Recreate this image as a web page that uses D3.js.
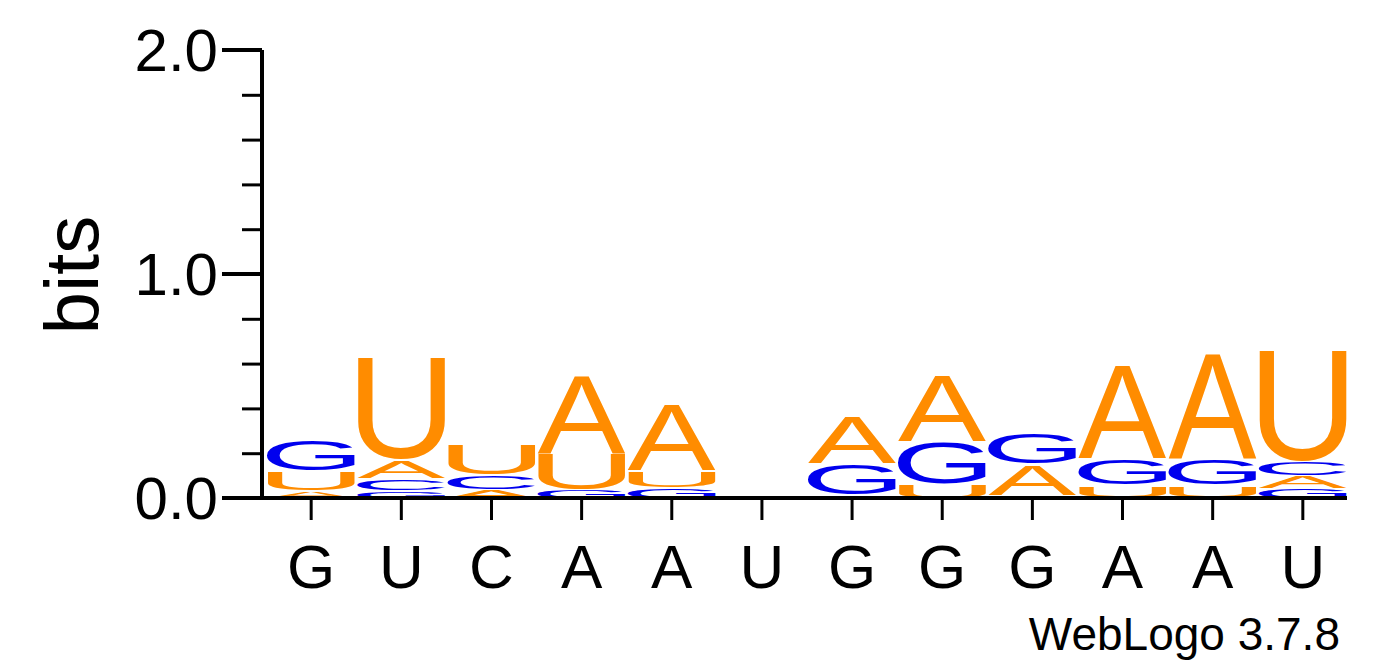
<!DOCTYPE html>
<html><head><meta charset="utf-8">
<script src="https://cdn.jsdelivr.net/npm/d3@7"></script>
<style>body{margin:0;background:#fff}</style>
</head><body><svg id="c" width="1392" height="667"></svg>
<script>
const positions = ["G","U","C","A","A","U","G","G","G","A","A","U"];
// stacks bottom -> top, [letter, bits]
const stacks = [
  [["A",0.035],["U",0.09],["G",0.14]],
  [["G",0.035],["C",0.055],["A",0.08],["U",0.46]],
  [["A",0.04],["C",0.065],["U",0.14]],
  [["G",0.04],["U",0.16],["A",0.35]],
  [["G",0.05],["U",0.075],["A",0.3]],
  [["G",0.005],["U",0.008]],
  [["G",0.005],["U",0.01],["G",0.14],["A",0.21]],
  [["U",0.065],["G",0.19],["A",0.3]],
  [["G",0.004],["U",0.01],["A",0.14],["G",0.14]],
  [["G",0.004],["U",0.055],["G",0.12],["A",0.42]],
  [["G",0.004],["U",0.055],["G",0.12],["A",0.47]],
  [["G",0.045],["A",0.055],["C",0.065],["U",0.5]]
];
const colors = {A:"#ff8c00",U:"#ff8c00",G:"#0000ee",C:"#0000ee"};
const font = "Liberation Sans, Arial, sans-serif";

const svg = d3.select("#c");
const x = d3.scaleBand().domain(d3.range(positions.length)).range([267,1347]).paddingInner(0.02);
const y = d3.scaleLinear().domain([0,2]).range([498,50]);

// measure ink boxes
const ctx = document.createElement("canvas").getContext("2d");
ctx.font = "100px " + font;
const ink = {};
"ACGU".split("").forEach(l => { ink[l] = ctx.measureText(l); });

const g = svg.append("g");
stacks.forEach((st, i) => {
  let acc = 0;
  st.forEach(([l, v]) => {
    const yb = y(acc), yt = y(acc + v);
    acc += v;
    const h = (yb - yt) - 1.5;
    if (h <= 0.3) return;
    const m = ink[l];
    const w = x.bandwidth();
    const sx = w / (m.actualBoundingBoxLeft + m.actualBoundingBoxRight);
    const sy = h / (m.actualBoundingBoxAscent + m.actualBoundingBoxDescent);
    g.append("text").text(l)
      .attr("font-family", font).attr("font-size", 100)
      .attr("fill", colors[l])
      .attr("transform", `translate(${x(i) + m.actualBoundingBoxLeft*sx},${yb - m.actualBoundingBoxDescent*sy}) scale(${sx},${sy})`);
  });
});

// y axis
const ya = svg.append("g").attr("transform","translate(262,0)")
  .call(d3.axisLeft(y).tickValues(d3.range(0,2.01,0.2)).tickSize(20).tickFormat(""));
ya.selectAll("line").attr("stroke-width",3);
ya.select(".domain").attr("stroke-width",4).attr("d","M0,50V498");
[0,1,2].forEach(v => {
  svg.append("line").attr("x1",222).attr("x2",262).attr("y1",y(v)).attr("y2",y(v))
    .attr("stroke","#000").attr("stroke-width",4);
  svg.append("text").attr("x",218).attr("y",y(v)+21).attr("text-anchor","end")
    .attr("font-family",font).attr("font-size",60).text(v.toFixed(1));
});
svg.append("text").attr("transform","translate(98,275) rotate(-90)").attr("text-anchor","middle")
  .attr("font-family",font).attr("font-size",76).text("bits");

// x axis
svg.append("line").attr("x1",260).attr("x2",1347).attr("y1",498).attr("y2",498)
  .attr("stroke","#000").attr("stroke-width",4);
positions.forEach((p,i) => {
  const cx = x(i) + x.bandwidth()/2;
  svg.append("line").attr("x1",cx).attr("x2",cx).attr("y1",498).attr("y2",520)
    .attr("stroke","#000").attr("stroke-width",3);
  svg.append("text").attr("x",cx).attr("y",588).attr("text-anchor","middle")
    .attr("font-family",font).attr("font-size",62).text(p);
});
svg.append("text").attr("x",1340).attr("y",650).attr("text-anchor","end")
  .attr("font-family",font).attr("font-size",46).text("WebLogo 3.7.8");
</script></body></html>
